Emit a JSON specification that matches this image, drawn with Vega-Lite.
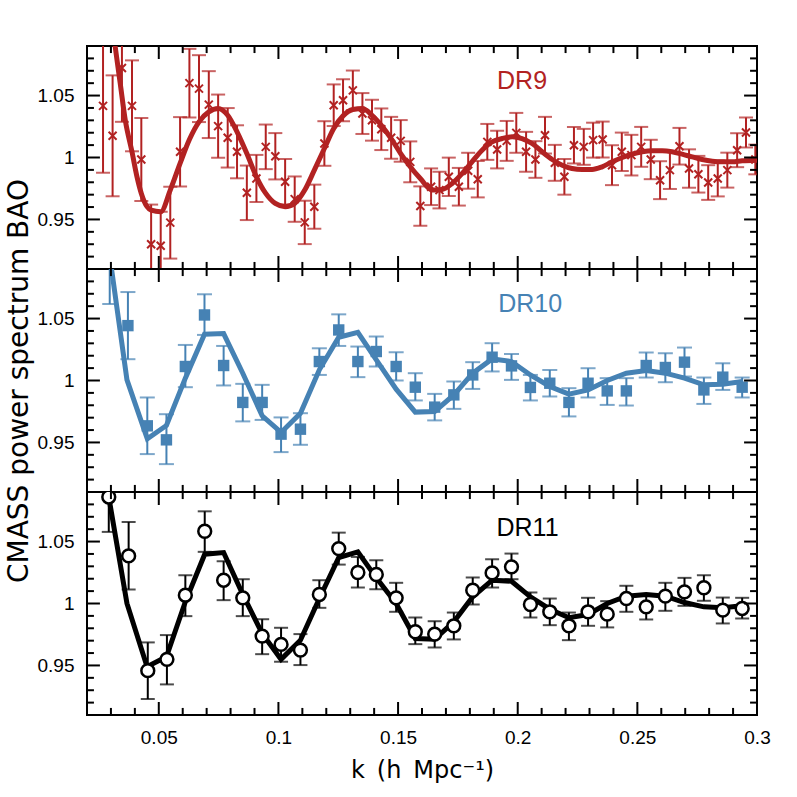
{
  "$schema": "https://vega.github.io/schema/vega-lite/v6.json",
  "padding": {"left": 4, "top": 44, "right": 5, "bottom": 5},
  "spacing": 0,
  "bounds": "flush",
  "background": "white",
  "config": {
    "view": {"stroke": "black", "strokeWidth": 2},
    "axis": {"domain": false, "grid": false, "ticks": false, "labelFont": "Liberation Sans", "labelFontSize": 19, "labelColor": "black", "labelPadding": 13, "labelOverlap": false, "labelFlush": false, "titleFont": "DejaVu Sans", "titleFontWeight": "normal", "titleColor": "black", "format": "~g"}
  },
  "datasets": {
    "xmaj": [{"t":0.05},{"t":0.1},{"t":0.15},{"t":0.2},{"t":0.25},{"t":0.3}],
    "xmin": [{"t":0.02},{"t":0.03},{"t":0.04},{"t":0.06},{"t":0.07},{"t":0.08},{"t":0.09},{"t":0.11},{"t":0.12},{"t":0.13},{"t":0.14},{"t":0.16},{"t":0.17},{"t":0.18},{"t":0.19},{"t":0.21},{"t":0.22},{"t":0.23},{"t":0.24},{"t":0.26},{"t":0.27},{"t":0.28},{"t":0.29}],
    "ymaj": [{"t":0.95},{"t":1},{"t":1.05}],
    "ymin": [{"t":0.91},{"t":0.92},{"t":0.93},{"t":0.94},{"t":0.96},{"t":0.97},{"t":0.98},{"t":0.99},{"t":1.01},{"t":1.02},{"t":1.03},{"t":1.04},{"t":1.06},{"t":1.07},{"t":1.08},{"t":1.09}],
    "dr9": [
      {"k":0.0267,"v":1.0417,"lo":0.9877,"hi":1.0957},{"k":0.0307,"v":1.0175,"lo":0.9687,"hi":1.0663},{"k":0.0346,"v":1.0723,"lo":1.0288,"hi":1.1158},{"k":0.0388,"v":1.0417,"lo":1.005,"hi":1.0784},{"k":0.0427,"v":0.9984,"lo":0.9649,"hi":1.0319},{"k":0.0468,"v":0.930,"lo":0.898,"hi":0.962},{"k":0.0508,"v":0.9288,"lo":0.9014,"hi":0.9562},{"k":0.0548,"v":0.9474,"lo":0.9184,"hi":0.9764},{"k":0.0589,"v":1.0046,"lo":0.9766,"hi":1.0326},{"k":0.0628,"v":1.060,"lo":1.0323,"hi":1.0877},{"k":0.0668,"v":1.0556,"lo":1.0286,"hi":1.0826},{"k":0.0709,"v":1.0427,"lo":1.0157,"hi":1.0697},{"k":0.0748,"v":1.0253,"lo":0.9998,"hi":1.0508},{"k":0.0788,"v":1.0159,"lo":0.9919,"hi":1.0399},{"k":0.0827,"v":1.0046,"lo":0.9832,"hi":1.026},{"k":0.0868,"v":0.9715,"lo":0.9495,"hi":0.9935},{"k":0.0908,"v":0.9831,"lo":0.9641,"hi":1.0021},{"k":0.0947,"v":1.0086,"lo":0.9906,"hi":1.0266},{"k":0.0987,"v":1.001,"lo":0.9823,"hi":1.0197},{"k":0.1028,"v":0.9804,"lo":0.962,"hi":0.9988},{"k":0.1068,"v":0.9664,"lo":0.9481,"hi":0.9847},{"k":0.111,"v":0.9476,"lo":0.9301,"hi":0.9651},{"k":0.115,"v":0.9603,"lo":0.9425,"hi":0.9781},{"k":0.1192,"v":1.0113,"lo":0.9933,"hi":1.0293},{"k":0.1231,"v":1.0422,"lo":1.0254,"hi":1.059},{"k":0.127,"v":1.0462,"lo":1.0292,"hi":1.0632},{"k":0.1311,"v":1.0542,"lo":1.0382,"hi":1.0702},{"k":0.1351,"v":1.0355,"lo":1.019,"hi":1.052},{"k":0.1391,"v":1.0301,"lo":1.0136,"hi":1.0466},{"k":0.143,"v":1.0228,"lo":1.006,"hi":1.0396},{"k":0.1471,"v":1.0159,"lo":0.999,"hi":1.0328},{"k":0.1511,"v":1.0134,"lo":0.9966,"hi":1.0302},{"k":0.1551,"v":0.9965,"lo":0.98,"hi":1.013},{"k":0.1593,"v":0.9608,"lo":0.9449,"hi":0.9767},
      {"k":0.1638,"v":0.9764,"lo":0.9616,"hi":0.9912},{"k":0.1673,"v":0.9737,"lo":0.9589,"hi":0.9885},{"k":0.1712,"v":0.9844,"lo":0.9689,"hi":0.9999},{"k":0.1754,"v":0.9764,"lo":0.9612,"hi":0.9916},{"k":0.1793,"v":0.9893,"lo":0.9748,"hi":1.0038},{"k":0.1833,"v":0.9825,"lo":0.9678,"hi":0.9972},{"k":0.1873,"v":1.0126,"lo":0.9981,"hi":1.0271},{"k":0.1914,"v":1.0064,"lo":0.9912,"hi":1.0216},{"k":0.1954,"v":1.0134,"lo":0.9973,"hi":1.0295},{"k":0.1994,"v":1.0199,"lo":1.0038,"hi":1.036},{"k":0.2035,"v":1.0046,"lo":0.9885,"hi":1.0207},{"k":0.2074,"v":0.9984,"lo":0.9836,"hi":1.0132},{"k":0.2114,"v":1.018,"lo":1.0032,"hi":1.0328},{"k":0.2155,"v":0.9957,"lo":0.9812,"hi":1.0102},{"k":0.2195,"v":0.9844,"lo":0.97,"hi":0.9988},{"k":0.2235,"v":1.0099,"lo":0.9952,"hi":1.0246},{"k":0.2276,"v":1.0086,"lo":0.9941,"hi":1.0231},{"k":0.2315,"v":1.014,"lo":0.9999,"hi":1.0281},{"k":0.2355,"v":1.0145,"lo":1.0,"hi":1.029},{"k":0.2394,"v":0.9938,"lo":0.9777,"hi":1.0099},{"k":0.2435,"v":1.0046,"lo":0.9891,"hi":1.0201},{"k":0.2475,"v":1.0019,"lo":0.9855,"hi":1.0183},{"k":0.2516,"v":1.0086,"lo":0.9925,"hi":1.0247},{"k":0.2556,"v":0.9984,"lo":0.9825,"hi":1.0143},{"k":0.2595,"v":0.9817,"lo":0.9664,"hi":0.997},{"k":0.2636,"v":0.9898,"lo":0.9746,"hi":1.005},{"k":0.2676,"v":1.0091,"lo":0.9943,"hi":1.0239},{"k":0.2716,"v":0.9911,"lo":0.9756,"hi":1.0066},{"k":0.2755,"v":0.9865,"lo":0.9717,"hi":1.0013},{"k":0.2796,"v":0.9798,"lo":0.9658,"hi":0.9938},{"k":0.2836,"v":0.9831,"lo":0.9686,"hi":0.9976},{"k":0.2876,"v":0.9898,"lo":0.9757,"hi":1.0039},{"k":0.2917,"v":1.0059,"lo":0.9922,"hi":1.0196},{"k":0.2954,"v":1.0202,"lo":1.0081,"hi":1.0323},{"k":0.2993,"v":0.9984,"lo":0.9864,"hi":1.0104}
    ],
    "dr9model": [
      {"k":0.028,"v":1.15},{"k":0.0296,"v":1.12},{"k":0.0318,"v":1.0892},{"k":0.0339,"v":1.0596},{"k":0.036,"v":1.0301},{"k":0.0388,"v":1.0046},{"k":0.0409,"v":0.9844},{"k":0.0427,"v":0.971},{"k":0.0451,"v":0.9603},{"k":0.0468,"v":0.9575},{"k":0.0508,"v":0.9562},{"k":0.0548,"v":0.9737},{"k":0.0589,"v":0.9952},{"k":0.0628,"v":1.0145},{"k":0.0668,"v":1.0288},{"k":0.0709,"v":1.0368},{"k":0.0748,"v":1.0395},{"k":0.0788,"v":1.0341},{"k":0.0827,"v":1.0207},{"k":0.0868,"v":1.0032},{"k":0.0908,"v":0.9844},{"k":0.0947,"v":0.971},{"k":0.0987,"v":0.9629},{"k":0.1028,"v":0.9603},{"k":0.1068,"v":0.963},{"k":0.111,"v":0.9737},{"k":0.115,"v":0.9898},{"k":0.1192,"v":1.0073},{"k":0.1231,"v":1.0234},{"k":0.127,"v":1.0336},{"k":0.1311,"v":1.0387},{"k":0.1351,"v":1.0395},{"k":0.1391,"v":1.0341},{"k":0.143,"v":1.026},{"k":0.1471,"v":1.0153},{"k":0.1511,"v":1.0032},{"k":0.1551,"v":0.9925},{"k":0.1593,"v":0.983},{"k":0.1642,"v":0.9737},{"k":0.1684,"v":0.9742},{"k":0.1726,"v":0.979},{"k":0.1768,"v":0.9871},{"k":0.1809,"v":0.9965},{"k":0.1851,"v":1.0059},{"k":0.1893,"v":1.0126},{"k":0.1935,"v":1.0153},{"k":0.1977,"v":1.0167},{"k":0.2018,"v":1.0153},{"k":0.206,"v":1.0113},{"k":0.2102,"v":1.0046},{"k":0.2144,"v":0.9984},{"k":0.2186,"v":0.9938},{"k":0.2227,"v":0.9911},{"k":0.2269,"v":0.9903},{"k":0.2311,"v":0.9903},{"k":0.2353,"v":0.9925},{"k":0.2395,"v":0.9965},{"k":0.2437,"v":1.0},{"k":0.2478,"v":1.0027},{"k":0.252,"v":1.0046},{"k":0.2562,"v":1.0054},{"k":0.2604,"v":1.0054},{"k":0.2645,"v":1.0046},{"k":0.2687,"v":1.0027},{"k":0.2729,"v":1.0005},{"k":0.2771,"v":0.9984},{"k":0.2813,"v":0.997},{"k":0.2854,"v":0.9965},{"k":0.2896,"v":0.9965},{"k":0.2938,"v":0.9973},{"k":0.3,"v":0.9978}
    ],
    "dr10": [
      {"k":0.0295,"v":1.095,"lo":1.0617,"hi":1.13},{"k":0.0371,"v":1.0443,"lo":1.0172,"hi":1.0714},{"k":0.0452,"v":0.9634,"lo":0.9406,"hi":0.9863},{"k":0.0532,"v":0.9521,"lo":0.9325,"hi":0.9728},{"k":0.0611,"v":1.0113,"lo":0.9946,"hi":1.0287},{"k":0.0691,"v":1.0529,"lo":1.0368,"hi":1.0696},{"k":0.0771,"v":1.0121,"lo":0.996,"hi":1.0279},{"k":0.0851,"v":0.9823,"lo":0.967,"hi":0.9973},{"k":0.0932,"v":0.9823,"lo":0.9682,"hi":0.9965},{"k":0.1011,"v":0.9567,"lo":0.9422,"hi":0.9702},{"k":0.1092,"v":0.9607,"lo":0.9481,"hi":0.9736},{"k":0.1171,"v":1.0153,"lo":1.0045,"hi":1.026},{"k":0.1252,"v":1.0408,"lo":1.0279,"hi":1.0534},{"k":0.1332,"v":1.0153,"lo":1.0027,"hi":1.0274},{"k":0.1409,"v":1.0234,"lo":1.0113,"hi":1.0355},{"k":0.1492,"v":1.0113,"lo":1.0,"hi":1.0228},{"k":0.1572,"v":0.9946,"lo":0.9839,"hi":1.0059},{"k":0.1653,"v":0.9785,"lo":0.9678,"hi":0.9892},{"k":0.1733,"v":0.9884,"lo":0.9771,"hi":0.9992},{"k":0.1812,"v":1.0045,"lo":0.9932,"hi":1.0148},{"k":0.1893,"v":1.0188,"lo":1.0073,"hi":1.0301},{"k":0.1974,"v":1.0118,"lo":1.0005,"hi":1.0214},{"k":0.2053,"v":0.9944,"lo":0.9839,"hi":1.0045},{"k":0.2134,"v":0.9978,"lo":0.9871,"hi":1.0085},{"k":0.2214,"v":0.9823,"lo":0.971,"hi":0.9938},{"k":0.2294,"v":0.9978,"lo":0.9863,"hi":1.0099},{"k":0.2374,"v":0.9916,"lo":0.9803,"hi":1.0019},{"k":0.2454,"v":0.9916,"lo":0.9798,"hi":1.0019},{"k":0.2537,"v":1.0121,"lo":1.0024,"hi":1.0226},{"k":0.2617,"v":1.0105,"lo":0.9986,"hi":1.022},{"k":0.2697,"v":1.0148,"lo":1.0032,"hi":1.0266},{"k":0.2778,"v":0.9924,"lo":0.9811,"hi":1.0024},{"k":0.2857,"v":1.0027,"lo":0.9924,"hi":1.0139},{"k":0.2938,"v":0.9946,"lo":0.9863,"hi":1.0024}
    ],
    "dr10model": [
      {"k":0.0291,"v":1.106},{"k":0.0367,"v":1.0005},{"k":0.0452,"v":0.9529},{"k":0.0532,"v":0.9637},{"k":0.0611,"v":1.0019},{"k":0.0691,"v":1.0373},{"k":0.0771,"v":1.0379},{"k":0.0851,"v":1.0059},{"k":0.0932,"v":0.9715},{"k":0.1011,"v":0.9581},{"k":0.1092,"v":0.9736},{"k":0.1171,"v":1.0086},{"k":0.1252,"v":1.0349},{"k":0.1332,"v":1.0389},{"k":0.1409,"v":1.0166},{"k":0.1492,"v":0.993},{"k":0.1572,"v":0.9745},{"k":0.1653,"v":0.975},{"k":0.1733,"v":0.9884},{"k":0.1812,"v":1.0059},{"k":0.1893,"v":1.0174},{"k":0.1974,"v":1.0153},{"k":0.2053,"v":1.0045},{"k":0.2134,"v":0.9952},{"k":0.2214,"v":0.989},{"k":0.2294,"v":0.9924},{"k":0.2374,"v":1.0},{"k":0.2454,"v":1.0059},{"k":0.2537,"v":1.0081},{"k":0.2617,"v":1.0059},{"k":0.2697,"v":1.0019},{"k":0.2778,"v":0.9965},{"k":0.2857,"v":0.997},{"k":0.2938,"v":0.9992}
    ],
    "dr11": [
      {"k":0.0291,"v":1.086,"lo":1.0578,"hi":1.114},{"k":0.0374,"v":1.0384,"lo":1.0113,"hi":1.0658},{"k":0.0454,"v":0.9458,"lo":0.9229,"hi":0.9686},{"k":0.0534,"v":0.9549,"lo":0.9347,"hi":0.9745},{"k":0.0611,"v":1.0067,"lo":0.9898,"hi":1.0228},{"k":0.0692,"v":1.0583,"lo":1.0417,"hi":1.0744},{"k":0.0771,"v":1.0188,"lo":1.0027,"hi":1.0341},{"k":0.0851,"v":1.0046,"lo":0.9898,"hi":1.0196},{"k":0.0932,"v":0.9737,"lo":0.9591,"hi":0.9873},{"k":0.1011,"v":0.967,"lo":0.953,"hi":0.9804},{"k":0.1092,"v":0.9624,"lo":0.9503,"hi":0.9753},{"k":0.1171,"v":1.0073,"lo":0.9965,"hi":1.0188},{"k":0.1252,"v":1.0443,"lo":1.0314,"hi":1.0572},{"k":0.1332,"v":1.025,"lo":1.0129,"hi":1.0376},{"k":0.1409,"v":1.0234,"lo":1.0115,"hi":1.0349},{"k":0.1492,"v":1.0046,"lo":0.9933,"hi":1.0167},{"k":0.1572,"v":0.9772,"lo":0.9672,"hi":0.9887},{"k":0.1653,"v":0.9753,"lo":0.9645,"hi":0.9857},{"k":0.1733,"v":0.982,"lo":0.971,"hi":0.9927},{"k":0.1812,"v":1.0107,"lo":0.9992,"hi":1.021},{"k":0.1893,"v":1.0247,"lo":1.0129,"hi":1.0357},{"k":0.1974,"v":1.0296,"lo":1.0196,"hi":1.0403},{"k":0.2053,"v":0.9992,"lo":0.9887,"hi":1.0089},{"k":0.2134,"v":0.9933,"lo":0.9825,"hi":1.004},{"k":0.2214,"v":0.982,"lo":0.9704,"hi":0.9927},{"k":0.2294,"v":0.9933,"lo":0.982,"hi":1.0046},{"k":0.2374,"v":0.9914,"lo":0.9807,"hi":1.0019},{"k":0.2454,"v":1.004,"lo":0.9933,"hi":1.0143},{"k":0.2537,"v":0.9973,"lo":0.9871,"hi":1.0073},{"k":0.2617,"v":1.0059,"lo":0.9941,"hi":1.0167},{"k":0.2697,"v":1.0094,"lo":0.9981,"hi":1.0207},{"k":0.2778,"v":1.0127,"lo":1.0022,"hi":1.0228},{"k":0.2857,"v":0.9946,"lo":0.9839,"hi":1.0048},{"k":0.2938,"v":0.996,"lo":0.9879,"hi":1.0046}
    ],
    "dr11model": [
      {"k":0.0291,"v":1.086},{"k":0.0367,"v":1.0},{"k":0.0451,"v":0.949},{"k":0.0532,"v":0.957},{"k":0.0611,"v":1.0014},{"k":0.0692,"v":1.0398},{"k":0.0771,"v":1.0411},{"k":0.0851,"v":1.0073},{"k":0.0932,"v":0.9758},{"k":0.1011,"v":0.9549},{"k":0.1092,"v":0.9704},{"k":0.1171,"v":1.004},{"k":0.1252,"v":1.0371},{"k":0.1332,"v":1.0417},{"k":0.1409,"v":1.0207},{"k":0.1492,"v":1.0},{"k":0.1572,"v":0.9718},{"k":0.1653,"v":0.9712},{"k":0.1733,"v":0.9852},{"k":0.1812,"v":1.0054},{"k":0.1893,"v":1.0188},{"k":0.1974,"v":1.018},{"k":0.2053,"v":1.0054},{"k":0.2134,"v":0.9954},{"k":0.2214,"v":0.9885},{"k":0.2294,"v":0.9911},{"k":0.2374,"v":1.0},{"k":0.2454,"v":1.0059},{"k":0.2537,"v":1.0073},{"k":0.2617,"v":1.0059},{"k":0.2697,"v":1.0008},{"k":0.2778,"v":0.9973},{"k":0.2857,"v":0.9965},{"k":0.2938,"v":0.9981}
    ]
  },
  "vconcat": [
    {
      "width": 670, "height": 223,
      "layer": [
        {"data": {"name": "dr9"}, "mark": {"type": "rule", "color": "#b22222", "strokeWidth": 2, "clip": true},
         "encoding": {"x": {"field": "k", "type": "quantitative", "scale": {"domain": [0.02, 0.3], "nice": false, "zero": false}},
                      "y": {"field": "lo", "type": "quantitative", "scale": {"domain": [0.91, 1.09], "nice": false, "zero": false}}, "y2": {"field": "hi"}}},
        {"data": {"name": "dr9"}, "mark": {"type": "tick", "orient": "horizontal", "size": 14, "thickness": 2, "color": "#b22222", "clip": true},
         "encoding": {"x": {"field": "k", "type": "quantitative", "scale": {"domain": [0.02, 0.3], "nice": false, "zero": false}},
                      "y": {"field": "lo", "type": "quantitative", "scale": {"domain": [0.91, 1.09], "nice": false, "zero": false}}}},
        {"data": {"name": "dr9"}, "mark": {"type": "tick", "orient": "horizontal", "size": 14, "thickness": 2, "color": "#b22222", "clip": true},
         "encoding": {"x": {"field": "k", "type": "quantitative", "scale": {"domain": [0.02, 0.3], "nice": false, "zero": false}},
                      "y": {"field": "hi", "type": "quantitative", "scale": {"domain": [0.91, 1.09], "nice": false, "zero": false}}}},
        {"data": {"name": "dr9"}, "mark": {"type": "point", "shape": "M-1,-1L1,1M-1,1L1,-1", "filled": false, "size": 64, "strokeWidth": 2, "color": "#b22222", "opacity": 1, "clip": true},
         "encoding": {"x": {"field": "k", "type": "quantitative", "scale": {"domain": [0.02, 0.3], "nice": false, "zero": false}},
                      "y": {"field": "v", "type": "quantitative", "scale": {"domain": [0.91, 1.09], "nice": false, "zero": false}}}},
        {"data": {"name": "dr9model"}, "mark": {"type": "line", "color": "#b22222", "strokeWidth": 5, "interpolate": "monotone", "clip": true},
         "encoding": {"x": {"field": "k", "type": "quantitative", "scale": {"domain": [0.02, 0.3], "nice": false, "zero": false}, "axis": {"values": [0.05,0.1,0.15,0.2,0.25,0.3], "labels": false, "title": null}},
                      "y": {"field": "v", "type": "quantitative", "scale": {"domain": [0.91, 1.09], "nice": false, "zero": false}, "axis": {"values": [0.95,1,1.05], "title": null}}}},
        {"data": {"values": [{}]}, "mark": {"type": "text", "font": "Liberation Sans", "fontSize": 25, "color": "#b22222", "align": "center", "baseline": "middle"},
         "encoding": {"x": {"datum": 0.2018, "type": "quantitative", "scale": {"domain": [0.02, 0.3], "nice": false, "zero": false}},
                      "y": {"datum": 1.0615, "type": "quantitative", "scale": {"domain": [0.91, 1.09], "nice": false, "zero": false}},
                      "text": {"value": "DR9"}}},
        {"data": {"name": "xmaj"}, "mark": {"type": "rule", "color": "black", "strokeWidth": 2}, "encoding": {"x": {"field": "t", "type": "quantitative", "scale": {"domain": [0.02, 0.3], "nice": false, "zero": false}}, "y": {"datum": 0.91, "type": "quantitative", "scale": {"domain": [0.91, 1.09], "nice": false, "zero": false}}, "y2": {"datum": 0.9205}}},
        {"data": {"name": "xmaj"}, "mark": {"type": "rule", "color": "black", "strokeWidth": 2}, "encoding": {"x": {"field": "t", "type": "quantitative", "scale": {"domain": [0.02, 0.3], "nice": false, "zero": false}}, "y": {"datum": 1.09, "type": "quantitative", "scale": {"domain": [0.91, 1.09], "nice": false, "zero": false}}, "y2": {"datum": 1.0795}}},
        {"data": {"name": "xmin"}, "mark": {"type": "rule", "color": "black", "strokeWidth": 2}, "encoding": {"x": {"field": "t", "type": "quantitative", "scale": {"domain": [0.02, 0.3], "nice": false, "zero": false}}, "y": {"datum": 0.91, "type": "quantitative", "scale": {"domain": [0.91, 1.09], "nice": false, "zero": false}}, "y2": {"datum": 0.9157}}},
        {"data": {"name": "xmin"}, "mark": {"type": "rule", "color": "black", "strokeWidth": 2}, "encoding": {"x": {"field": "t", "type": "quantitative", "scale": {"domain": [0.02, 0.3], "nice": false, "zero": false}}, "y": {"datum": 1.09, "type": "quantitative", "scale": {"domain": [0.91, 1.09], "nice": false, "zero": false}}, "y2": {"datum": 1.0843}}},
        {"data": {"name": "ymaj"}, "mark": {"type": "rule", "color": "black", "strokeWidth": 2}, "encoding": {"y": {"field": "t", "type": "quantitative", "scale": {"domain": [0.91, 1.09], "nice": false, "zero": false}}, "x": {"datum": 0.02, "type": "quantitative", "scale": {"domain": [0.02, 0.3], "nice": false, "zero": false}}, "x2": {"datum": 0.0254}}},
        {"data": {"name": "ymaj"}, "mark": {"type": "rule", "color": "black", "strokeWidth": 2}, "encoding": {"y": {"field": "t", "type": "quantitative", "scale": {"domain": [0.91, 1.09], "nice": false, "zero": false}}, "x": {"datum": 0.3, "type": "quantitative", "scale": {"domain": [0.02, 0.3], "nice": false, "zero": false}}, "x2": {"datum": 0.2946}}},
        {"data": {"name": "ymin"}, "mark": {"type": "rule", "color": "black", "strokeWidth": 2}, "encoding": {"y": {"field": "t", "type": "quantitative", "scale": {"domain": [0.91, 1.09], "nice": false, "zero": false}}, "x": {"datum": 0.02, "type": "quantitative", "scale": {"domain": [0.02, 0.3], "nice": false, "zero": false}}, "x2": {"datum": 0.0229}}},
        {"data": {"name": "ymin"}, "mark": {"type": "rule", "color": "black", "strokeWidth": 2}, "encoding": {"y": {"field": "t", "type": "quantitative", "scale": {"domain": [0.91, 1.09], "nice": false, "zero": false}}, "x": {"datum": 0.3, "type": "quantitative", "scale": {"domain": [0.02, 0.3], "nice": false, "zero": false}}, "x2": {"datum": 0.2971}}}
      ]
    },
    {
      "width": 670, "height": 223,
      "layer": [
        {"data": {"name": "dr10"}, "mark": {"type": "rule", "color": "#4682b4", "strokeWidth": 2, "clip": true},
         "encoding": {"x": {"field": "k", "type": "quantitative", "scale": {"domain": [0.02, 0.3], "nice": false, "zero": false}},
                      "y": {"field": "lo", "type": "quantitative", "scale": {"domain": [0.91, 1.09], "nice": false, "zero": false}}, "y2": {"field": "hi"}}},
        {"data": {"name": "dr10"}, "mark": {"type": "tick", "orient": "horizontal", "size": 15, "thickness": 2, "color": "#4682b4", "clip": true},
         "encoding": {"x": {"field": "k", "type": "quantitative", "scale": {"domain": [0.02, 0.3], "nice": false, "zero": false}},
                      "y": {"field": "lo", "type": "quantitative", "scale": {"domain": [0.91, 1.09], "nice": false, "zero": false}}}},
        {"data": {"name": "dr10"}, "mark": {"type": "tick", "orient": "horizontal", "size": 15, "thickness": 2, "color": "#4682b4", "clip": true},
         "encoding": {"x": {"field": "k", "type": "quantitative", "scale": {"domain": [0.02, 0.3], "nice": false, "zero": false}},
                      "y": {"field": "hi", "type": "quantitative", "scale": {"domain": [0.91, 1.09], "nice": false, "zero": false}}}},
        {"data": {"name": "dr10model"}, "mark": {"type": "line", "color": "#4682b4", "strokeWidth": 5, "clip": true},
         "encoding": {"x": {"field": "k", "type": "quantitative", "scale": {"domain": [0.02, 0.3], "nice": false, "zero": false}, "axis": {"values": [0.05,0.1,0.15,0.2,0.25,0.3], "labels": false, "title": null}},
                      "y": {"field": "v", "type": "quantitative", "scale": {"domain": [0.91, 1.09], "nice": false, "zero": false}, "axis": {"values": [0.95,1,1.05], "title": "CMASS power spectrum BAO", "titleFontSize": 28, "titlePadding": 4}}}},
        {"data": {"name": "dr10"}, "mark": {"type": "square", "filled": true, "size": 130, "color": "#4682b4", "opacity": 1, "clip": true},
         "encoding": {"x": {"field": "k", "type": "quantitative", "scale": {"domain": [0.02, 0.3], "nice": false, "zero": false}},
                      "y": {"field": "v", "type": "quantitative", "scale": {"domain": [0.91, 1.09], "nice": false, "zero": false}}}},
        {"data": {"values": [{}]}, "mark": {"type": "text", "font": "Liberation Sans", "fontSize": 25, "color": "#4682b4", "align": "center", "baseline": "middle"},
         "encoding": {"x": {"datum": 0.2052, "type": "quantitative", "scale": {"domain": [0.02, 0.3], "nice": false, "zero": false}},
                      "y": {"datum": 1.0615, "type": "quantitative", "scale": {"domain": [0.91, 1.09], "nice": false, "zero": false}},
                      "text": {"value": "DR10"}}},
        {"data": {"name": "xmaj"}, "mark": {"type": "rule", "color": "black", "strokeWidth": 2}, "encoding": {"x": {"field": "t", "type": "quantitative", "scale": {"domain": [0.02, 0.3], "nice": false, "zero": false}}, "y": {"datum": 0.91, "type": "quantitative", "scale": {"domain": [0.91, 1.09], "nice": false, "zero": false}}, "y2": {"datum": 0.9205}}},
        {"data": {"name": "xmaj"}, "mark": {"type": "rule", "color": "black", "strokeWidth": 2}, "encoding": {"x": {"field": "t", "type": "quantitative", "scale": {"domain": [0.02, 0.3], "nice": false, "zero": false}}, "y": {"datum": 1.09, "type": "quantitative", "scale": {"domain": [0.91, 1.09], "nice": false, "zero": false}}, "y2": {"datum": 1.0795}}},
        {"data": {"name": "xmin"}, "mark": {"type": "rule", "color": "black", "strokeWidth": 2}, "encoding": {"x": {"field": "t", "type": "quantitative", "scale": {"domain": [0.02, 0.3], "nice": false, "zero": false}}, "y": {"datum": 0.91, "type": "quantitative", "scale": {"domain": [0.91, 1.09], "nice": false, "zero": false}}, "y2": {"datum": 0.9157}}},
        {"data": {"name": "xmin"}, "mark": {"type": "rule", "color": "black", "strokeWidth": 2}, "encoding": {"x": {"field": "t", "type": "quantitative", "scale": {"domain": [0.02, 0.3], "nice": false, "zero": false}}, "y": {"datum": 1.09, "type": "quantitative", "scale": {"domain": [0.91, 1.09], "nice": false, "zero": false}}, "y2": {"datum": 1.0843}}},
        {"data": {"name": "ymaj"}, "mark": {"type": "rule", "color": "black", "strokeWidth": 2}, "encoding": {"y": {"field": "t", "type": "quantitative", "scale": {"domain": [0.91, 1.09], "nice": false, "zero": false}}, "x": {"datum": 0.02, "type": "quantitative", "scale": {"domain": [0.02, 0.3], "nice": false, "zero": false}}, "x2": {"datum": 0.0254}}},
        {"data": {"name": "ymaj"}, "mark": {"type": "rule", "color": "black", "strokeWidth": 2}, "encoding": {"y": {"field": "t", "type": "quantitative", "scale": {"domain": [0.91, 1.09], "nice": false, "zero": false}}, "x": {"datum": 0.3, "type": "quantitative", "scale": {"domain": [0.02, 0.3], "nice": false, "zero": false}}, "x2": {"datum": 0.2946}}},
        {"data": {"name": "ymin"}, "mark": {"type": "rule", "color": "black", "strokeWidth": 2}, "encoding": {"y": {"field": "t", "type": "quantitative", "scale": {"domain": [0.91, 1.09], "nice": false, "zero": false}}, "x": {"datum": 0.02, "type": "quantitative", "scale": {"domain": [0.02, 0.3], "nice": false, "zero": false}}, "x2": {"datum": 0.0229}}},
        {"data": {"name": "ymin"}, "mark": {"type": "rule", "color": "black", "strokeWidth": 2}, "encoding": {"y": {"field": "t", "type": "quantitative", "scale": {"domain": [0.91, 1.09], "nice": false, "zero": false}}, "x": {"datum": 0.3, "type": "quantitative", "scale": {"domain": [0.02, 0.3], "nice": false, "zero": false}}, "x2": {"datum": 0.2971}}}
      ]
    },
    {
      "width": 670, "height": 223,
      "layer": [
        {"data": {"name": "dr11"}, "mark": {"type": "rule", "color": "black", "strokeWidth": 2, "clip": true},
         "encoding": {"x": {"field": "k", "type": "quantitative", "scale": {"domain": [0.02, 0.3], "nice": false, "zero": false}},
                      "y": {"field": "lo", "type": "quantitative", "scale": {"domain": [0.91, 1.09], "nice": false, "zero": false}}, "y2": {"field": "hi"}}},
        {"data": {"name": "dr11"}, "mark": {"type": "tick", "orient": "horizontal", "size": 14, "thickness": 2, "color": "black", "clip": true},
         "encoding": {"x": {"field": "k", "type": "quantitative", "scale": {"domain": [0.02, 0.3], "nice": false, "zero": false}},
                      "y": {"field": "lo", "type": "quantitative", "scale": {"domain": [0.91, 1.09], "nice": false, "zero": false}}}},
        {"data": {"name": "dr11"}, "mark": {"type": "tick", "orient": "horizontal", "size": 14, "thickness": 2, "color": "black", "clip": true},
         "encoding": {"x": {"field": "k", "type": "quantitative", "scale": {"domain": [0.02, 0.3], "nice": false, "zero": false}},
                      "y": {"field": "hi", "type": "quantitative", "scale": {"domain": [0.91, 1.09], "nice": false, "zero": false}}}},
        {"data": {"name": "dr11model"}, "mark": {"type": "line", "color": "black", "strokeWidth": 5, "clip": true},
         "encoding": {"x": {"field": "k", "type": "quantitative", "scale": {"domain": [0.02, 0.3], "nice": false, "zero": false}, "axis": {"values": [0.05,0.1,0.15,0.2,0.25,0.3], "title": "k\u2002(h\u2002Mpc\u207b\u00b9)", "titleFontSize": 24, "titlePadding": 11}},
                      "y": {"field": "v", "type": "quantitative", "scale": {"domain": [0.91, 1.09], "nice": false, "zero": false}, "axis": {"values": [0.95,1,1.05], "title": null}}}},
        {"data": {"name": "dr11"}, "mark": {"type": "point", "shape": "circle", "filled": true, "fill": "white", "stroke": "black", "strokeWidth": 2.5, "size": 165, "opacity": 1, "clip": true},
         "encoding": {"x": {"field": "k", "type": "quantitative", "scale": {"domain": [0.02, 0.3], "nice": false, "zero": false}},
                      "y": {"field": "v", "type": "quantitative", "scale": {"domain": [0.91, 1.09], "nice": false, "zero": false}}}},
        {"data": {"values": [{}]}, "mark": {"type": "text", "font": "Liberation Sans", "fontSize": 25, "color": "black", "align": "center", "baseline": "middle"},
         "encoding": {"x": {"datum": 0.2041, "type": "quantitative", "scale": {"domain": [0.02, 0.3], "nice": false, "zero": false}},
                      "y": {"datum": 1.0607, "type": "quantitative", "scale": {"domain": [0.91, 1.09], "nice": false, "zero": false}},
                      "text": {"value": "DR11"}}},
        {"data": {"name": "xmaj"}, "mark": {"type": "rule", "color": "black", "strokeWidth": 2}, "encoding": {"x": {"field": "t", "type": "quantitative", "scale": {"domain": [0.02, 0.3], "nice": false, "zero": false}}, "y": {"datum": 0.91, "type": "quantitative", "scale": {"domain": [0.91, 1.09], "nice": false, "zero": false}}, "y2": {"datum": 0.9205}}},
        {"data": {"name": "xmaj"}, "mark": {"type": "rule", "color": "black", "strokeWidth": 2}, "encoding": {"x": {"field": "t", "type": "quantitative", "scale": {"domain": [0.02, 0.3], "nice": false, "zero": false}}, "y": {"datum": 1.09, "type": "quantitative", "scale": {"domain": [0.91, 1.09], "nice": false, "zero": false}}, "y2": {"datum": 1.0795}}},
        {"data": {"name": "xmin"}, "mark": {"type": "rule", "color": "black", "strokeWidth": 2}, "encoding": {"x": {"field": "t", "type": "quantitative", "scale": {"domain": [0.02, 0.3], "nice": false, "zero": false}}, "y": {"datum": 0.91, "type": "quantitative", "scale": {"domain": [0.91, 1.09], "nice": false, "zero": false}}, "y2": {"datum": 0.9157}}},
        {"data": {"name": "xmin"}, "mark": {"type": "rule", "color": "black", "strokeWidth": 2}, "encoding": {"x": {"field": "t", "type": "quantitative", "scale": {"domain": [0.02, 0.3], "nice": false, "zero": false}}, "y": {"datum": 1.09, "type": "quantitative", "scale": {"domain": [0.91, 1.09], "nice": false, "zero": false}}, "y2": {"datum": 1.0843}}},
        {"data": {"name": "ymaj"}, "mark": {"type": "rule", "color": "black", "strokeWidth": 2}, "encoding": {"y": {"field": "t", "type": "quantitative", "scale": {"domain": [0.91, 1.09], "nice": false, "zero": false}}, "x": {"datum": 0.02, "type": "quantitative", "scale": {"domain": [0.02, 0.3], "nice": false, "zero": false}}, "x2": {"datum": 0.0254}}},
        {"data": {"name": "ymaj"}, "mark": {"type": "rule", "color": "black", "strokeWidth": 2}, "encoding": {"y": {"field": "t", "type": "quantitative", "scale": {"domain": [0.91, 1.09], "nice": false, "zero": false}}, "x": {"datum": 0.3, "type": "quantitative", "scale": {"domain": [0.02, 0.3], "nice": false, "zero": false}}, "x2": {"datum": 0.2946}}},
        {"data": {"name": "ymin"}, "mark": {"type": "rule", "color": "black", "strokeWidth": 2}, "encoding": {"y": {"field": "t", "type": "quantitative", "scale": {"domain": [0.91, 1.09], "nice": false, "zero": false}}, "x": {"datum": 0.02, "type": "quantitative", "scale": {"domain": [0.02, 0.3], "nice": false, "zero": false}}, "x2": {"datum": 0.0229}}},
        {"data": {"name": "ymin"}, "mark": {"type": "rule", "color": "black", "strokeWidth": 2}, "encoding": {"y": {"field": "t", "type": "quantitative", "scale": {"domain": [0.91, 1.09], "nice": false, "zero": false}}, "x": {"datum": 0.3, "type": "quantitative", "scale": {"domain": [0.02, 0.3], "nice": false, "zero": false}}, "x2": {"datum": 0.2971}}}
      ]
    }
  ]
}
